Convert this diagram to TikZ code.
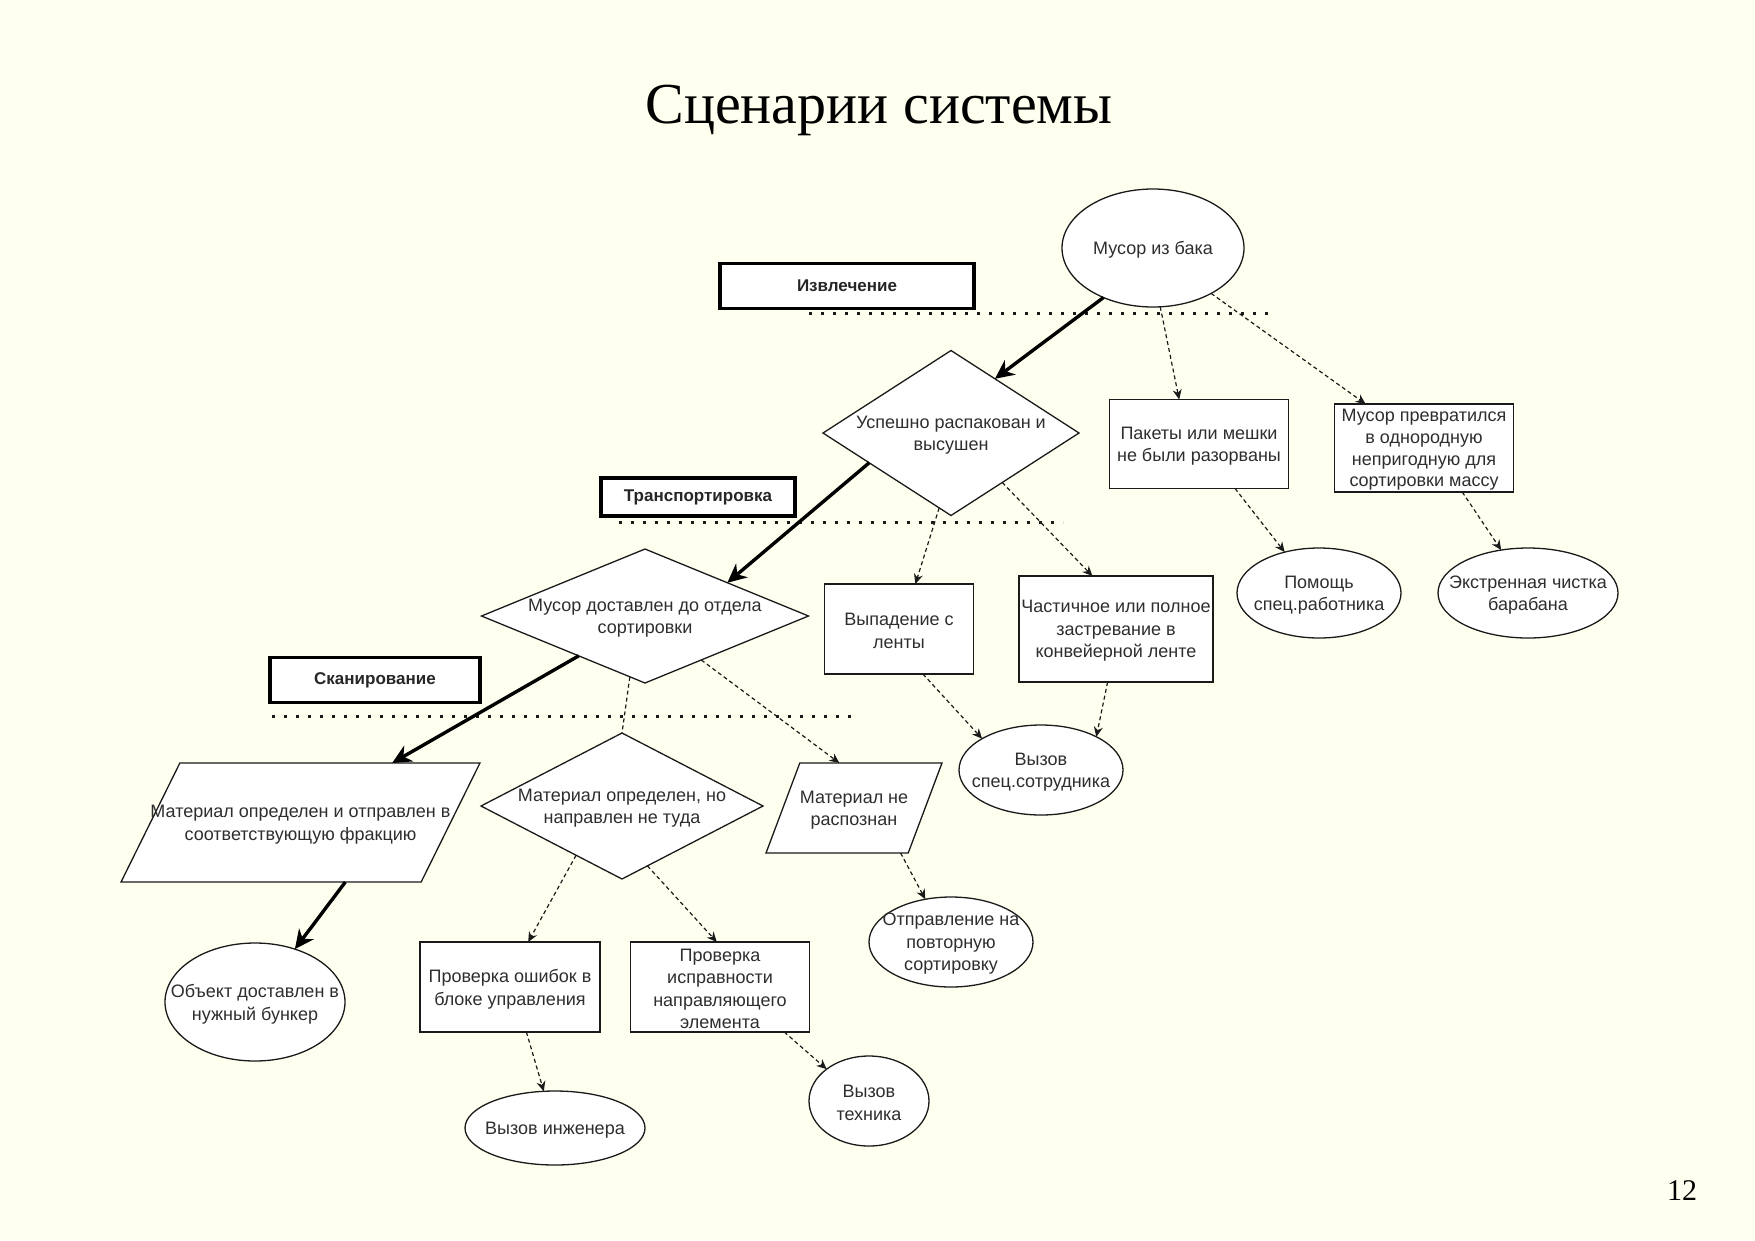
\documentclass[tikz,border=0pt]{standalone}
\usepackage{fontspec}
\setmainfont{Liberation Sans}
\newfontfamily\titlefont{Liberation Serif}
\usetikzlibrary{shapes.geometric,arrows.meta}
\definecolor{bg}{HTML}{FFFFF0}
\definecolor{ink}{HTML}{1A1A1A}
\definecolor{txtc}{HTML}{2E2E2E}
\begin{document}
\begin{tikzpicture}[x=1pt,y=-1pt,
  shp/.style={draw=ink, line width=1.3, fill=white, inner sep=0, outer sep=0},
  rbox/.style={shp, rectangle},
  ell/.style={shp, ellipse},
  dia/.style={shp, diamond},
  para/.style={shp, trapezium, trapezium stretches=true, inner sep=2},
  sect/.style={draw=black, line width=3.2, fill=white, inner sep=0, text=black!85,
    font=\fontsize{17}{20}\selectfont\bfseries},
  txt/.style={inner sep=0, align=center, text=txtc, yshift=-2pt, font=\fontsize{18}{22.5}\selectfont},
  mainflow/.style={draw=black, line width=3.4, -{Stealth[length=19,width=18,inset=6]}},
  alt/.style={draw=ink, line width=1.2, dash pattern=on 4 off 3, -{Stealth[length=10,width=9]}},
  altline/.style={draw=ink, line width=1.2, dash pattern=on 4 off 3},
  sep/.style={draw=ink, line width=3, dash pattern=on 3 off 9}
]
\fill[bg] (0,0) rectangle (1755,1240);
\useasboundingbox (0,0) rectangle (1755,1240);

% title and page number
\node[font=\titlefont\fontsize{58}{58}\selectfont, anchor=base, inner sep=0] (title) at (879,123) {Сценарии системы};
\node[font=\titlefont\fontsize{30}{30}\selectfont, anchor=base, inner sep=0] (pg) at (1682,1200) {12};

% section labels and separators
\draw[sep] (809,313) -- (1268,313);
\draw[sep] (619,522) -- (1063,522);
\draw[sep] (272,716) -- (851,716);
\node[sect, minimum width=254, minimum height=45] (sI) at (847,286) {Извлечение};
\node[sect, minimum width=194, minimum height=38] (sT) at (698,497) {Транспортировка};
\node[sect, minimum width=210, minimum height=45] (sS) at (375,680) {Сканирование};

% shapes
\node[ell, minimum width=182, minimum height=118] (mA) at (1153,248) {};
\node[txt] (mAt) at (mA) {Мусор из бака};

\node[dia, minimum width=256, minimum height=165] (dU) at (951,433) {};
\node[txt] (dUt) at (dU) {Успешно распакован и\\высушен};

\node[rbox, minimum width=179, minimum height=89] (bP) at (1199,444) {};
\node[txt] (bPt) at (bP) {Пакеты или мешки\\не были разорваны};

\node[rbox, minimum width=179, minimum height=88] (bM) at (1424,448) {};
\node[txt, font=\fontsize{18}{21.6}\selectfont] (bMt) at (bM) {Мусор превратился\\в однородную\\непригодную для\\сортировки массу};

\node[ell, minimum width=164, minimum height=90] (eH) at (1319,593) {};
\node[txt] (eHt) at (eH) {Помощь\\спец.работника};

\node[ell, minimum width=180, minimum height=90] (eC) at (1528,593) {};
\node[txt] (eCt) at (eC) {Экстренная чистка\\барабана};

\node[dia, minimum width=327, minimum height=134] (dD) at (645,616) {};
\node[txt] (dDt) at (dD) {Мусор доставлен до отдела\\сортировки};

\node[rbox, minimum width=149, minimum height=90] (bV) at (899,629) {};
\node[txt] (bVt) at (bV) {Выпадение с\\ленты};

\node[rbox, minimum width=194, minimum height=106] (bZ) at (1116,629) {};
\node[txt] (bZt) at (bZ) {Частичное или полное\\застревание в\\конвейерной ленте};

\node[ell, minimum width=164, minimum height=90] (eS) at (1041,770) {};
\node[txt] (eSt) at (eS) {Вызов\\спец.сотрудника};

\node[para, minimum width=359, minimum height=119, trapezium left angle=76.3, trapezium right angle=103.7] (pF) at (300.5,822.5) {};
\node[txt] (pFt) at (pF) {Материал определен и отправлен в\\соответствующую фракцию};

\node[dia, minimum width=282, minimum height=146] (dW) at (622,806) {};
\node[txt] (dWt) at (dW) {Материал определен, но\\направлен не туда};

\node[para, minimum width=176, minimum height=90, trapezium left angle=72.7, trapezium right angle=107.3] (pN) at (854,808) {};
\node[txt] (pNt) at (pN) {Материал не\\распознан};

\node[ell, minimum width=180, minimum height=118] (eO) at (255,1002) {};
\node[txt] (eOt) at (eO) {Объект доставлен в\\нужный бункер};

\node[rbox, minimum width=180, minimum height=90] (bE) at (510,987) {};
\node[txt] (bEt) at (bE) {Проверка ошибок в\\блоке управления};

\node[rbox, minimum width=179, minimum height=90] (bG) at (720,987) {};
\node[txt] (bGt) at (bG) {Проверка\\исправности\\направляющего\\элемента};

\node[ell, minimum width=164, minimum height=90] (eR) at (951,942) {};
\node[txt] (eRt) at (eR) {Отправление на\\повторную\\сортировку};

\node[ell, minimum width=180, minimum height=74] (eI) at (555,1128) {};
\node[txt] (eIt) at (eI) {Вызов инженера};

\node[ell, minimum width=120, minimum height=90] (eT) at (869,1101) {};
\node[txt] (eTt) at (eT) {Вызов\\техника};

% main flow
\draw[mainflow] (mA.225) -- (dU.51);
\draw[mainflow] (dU.200) -- (dD.22);
\draw[mainflow] (dD.211) -- (pF.33);
\draw[mainflow] (pF.307) -- (eO.53);

% alternative flows
\draw[alt] (mA.277) -- (bP.114);
\draw[alt] (mA.322) -- (bM.143);
\draw[alt] (bP.309) -- (eH.130);
\draw[alt] (bM.311) -- (eC.122);
\draw[alt] (dU.261) -- (bV.70);
\draw[alt] (dU.316) -- (bZ.114);
\draw[alt] (bV.298) -- (eS.152);
\draw[alt] (bZ.261) -- (eS.31);
\draw[altline] (dD.256) -- (dW.north);
\draw[alt] (dD.322) -- (pN.108);
\draw[alt] (dW.227) -- (bE.68);
\draw[alt] (dW.293) -- (bG.94);
\draw[alt] (bE.290) -- (eI.107);
\draw[alt] (bG.325) -- (eT.143);
\draw[alt] (pN.316) -- (eR.121);
\end{tikzpicture}
\end{document}
